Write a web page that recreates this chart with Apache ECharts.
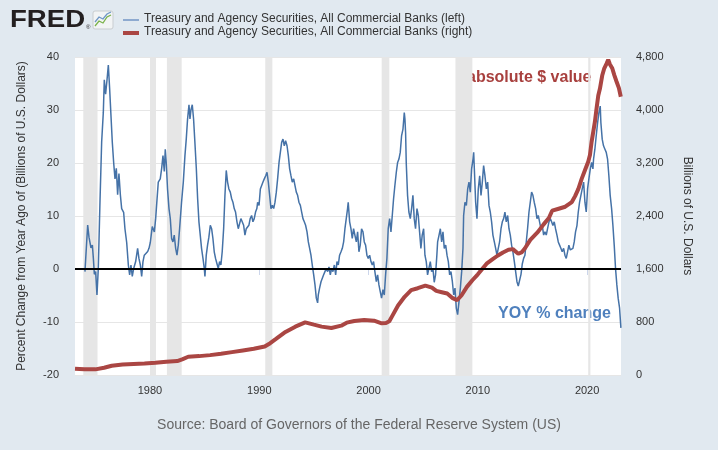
<!DOCTYPE html>
<html>
<head>
<meta charset="utf-8">
<script src="https://cdn.jsdelivr.net/npm/echarts@6/dist/echarts.min.js"></script>
<style>
html,body{margin:0;padding:0;background:#e1e9f0;}
#chart{width:718px;height:450px;}
</style>
</head>
<body>
<div id="chart"></div>
<script>
// ---- Data (decimal years) ----
const yoyYears = [1974.05,1974.30,1974.42,1974.60,1974.73,1974.82,1974.91,1975.03,1975.15,1975.27,1975.43,1975.58,1975.73,1975.82,1975.94,1976.07,1976.19,1976.31,1976.43,1976.55,1976.68,1976.80,1976.92,1977.04,1977.16,1977.29,1977.41,1977.59,1977.71,1977.87,1978.02,1978.14,1978.26,1978.38,1978.51,1978.69,1978.87,1978.99,1979.12,1979.24,1979.36,1979.48,1979.66,1979.79,1979.91,1980.03,1980.21,1980.40,1980.52,1980.64,1980.76,1980.94,1981.07,1981.19,1981.31,1981.40,1981.49,1981.61,1981.74,1981.86,1981.98,1982.10,1982.22,1982.35,1982.47,1982.59,1982.71,1982.89,1983.05,1983.20,1983.32,1983.44,1983.57,1983.66,1983.75,1983.87,1983.99,1984.11,1984.24,1984.36,1984.48,1984.60,1984.72,1984.85,1984.97,1985.03,1985.15,1985.27,1985.39,1985.52,1985.64,1985.76,1985.88,1986.00,1986.13,1986.25,1986.37,1986.49,1986.61,1986.74,1986.86,1986.98,1987.10,1987.22,1987.35,1987.47,1987.59,1987.71,1987.83,1987.96,1988.08,1988.20,1988.32,1988.44,1988.57,1988.69,1988.81,1988.93,1989.05,1989.17,1989.30,1989.42,1989.54,1989.66,1989.78,1989.85,1989.98,1990.10,1990.22,1990.34,1990.46,1990.59,1990.71,1990.83,1990.95,1991.07,1991.20,1991.32,1991.44,1991.56,1991.68,1991.81,1991.93,1992.05,1992.17,1992.29,1992.41,1992.54,1992.66,1992.78,1992.90,1993.02,1993.15,1993.27,1993.39,1993.51,1993.63,1993.76,1993.88,1994.00,1994.12,1994.24,1994.37,1994.49,1994.61,1994.73,1994.85,1994.98,1995.10,1995.22,1995.34,1995.40,1995.52,1995.65,1995.77,1995.89,1996.01,1996.13,1996.26,1996.38,1996.50,1996.62,1996.74,1996.87,1996.99,1997.11,1997.23,1997.35,1997.48,1997.60,1997.72,1997.84,1997.96,1998.08,1998.14,1998.27,1998.39,1998.51,1998.63,1998.75,1998.88,1999.00,1999.12,1999.24,1999.36,1999.49,1999.61,1999.73,1999.85,1999.97,2000.10,2000.22,2000.34,2000.46,2000.58,2000.71,2000.83,2000.95,2001.07,2001.19,2001.32,2001.44,2001.56,2001.68,2001.80,2001.93,2002.05,2002.17,2002.29,2002.41,2002.54,2002.66,2002.78,2002.90,2003.02,2003.15,2003.27,2003.33,2003.39,2003.45,2003.57,2003.69,2003.82,2003.94,2004.06,2004.18,2004.30,2004.43,2004.55,2004.67,2004.79,2004.91,2005.04,2005.16,2005.28,2005.40,2005.52,2005.65,2005.77,2005.89,2006.01,2006.13,2006.25,2006.32,2006.45,2006.57,2006.69,2006.81,2006.93,2007.06,2007.18,2007.30,2007.42,2007.54,2007.67,2007.79,2007.91,2008.03,2008.15,2008.28,2008.40,2008.52,2008.64,2008.70,2008.82,2008.95,2009.07,2009.19,2009.31,2009.43,2009.56,2009.62,2009.68,2009.80,2009.92,2010.04,2010.17,2010.29,2010.41,2010.53,2010.65,2010.78,2010.90,2011.02,2011.14,2011.26,2011.38,2011.51,2011.63,2011.75,2011.87,2011.99,2012.12,2012.24,2012.36,2012.48,2012.60,2012.73,2012.85,2012.97,2013.09,2013.21,2013.34,2013.46,2013.58,2013.70,2013.82,2013.95,2014.07,2014.19,2014.31,2014.43,2014.55,2014.68,2014.80,2014.92,2015.04,2015.16,2015.29,2015.41,2015.53,2015.65,2015.77,2015.90,2016.02,2016.14,2016.26,2016.38,2016.51,2016.63,2016.75,2016.87,2016.99,2017.11,2017.24,2017.36,2017.48,2017.60,2017.72,2017.85,2017.97,2018.09,2018.21,2018.33,2018.46,2018.58,2018.70,2018.82,2018.94,2019.07,2019.19,2019.31,2019.43,2019.55,2019.68,2019.80,2019.92,2020.04,2020.16,2020.29,2020.41,2020.53,2020.59,2020.71,2020.83,2020.96,2021.08,2021.20,2021.26,2021.38,2021.50,2021.63,2021.75,2021.87,2021.99,2022.11,2022.24,2022.36,2022.48,2022.60,2022.72,2022.84,2022.97,2023.09];
const yoyValues = [-0.5,8.3,6,4,4.5,2,-1,-0.5,-4.9,0,13,24,29.5,35.7,33,35.7,38.5,34,29,24,20,17,19,14,18,14,11.4,10.7,7.6,5,0.75,-1.1,0.75,-1.4,0.1,1.4,3.9,2,0.75,-1.4,1.4,2.6,2.6,3.3,3.9,5,8,7,9.5,13,16.4,17,19,21.4,18.4,22.6,20,15,11.4,9.5,5.75,5.1,6.4,3.9,2.6,4.5,7.6,12.6,16.4,21.4,24.5,28.3,31,28.3,30,31,28.3,23.9,19,13.3,8.9,6.4,3.9,2,0.1,-1.4,2.6,4.5,6,8.25,7.6,5.75,3.25,2,1,0.1,1.4,0.75,3.25,7.6,13.9,18.6,16.4,15.1,14.5,13.3,12.6,11.4,10.75,8.9,7.6,7.9,9.5,8.9,8.25,6.4,7.6,7.3,8.25,9.5,10.1,8.9,9.5,10.75,11.4,12.6,12,15.1,15.75,16.4,17,17.6,18.25,16.4,13.9,11.4,12,11.4,12.6,14.5,17,20.1,22,23.9,24.5,23.25,24.2,23.25,21.4,18.9,17.6,16.4,17,15.75,14.5,13.9,12.6,12,10.75,9.5,8.9,8.25,7,5.1,3.9,2.6,0.75,-1.1,-3,-5.5,-6.4,-4.9,-3.6,-2.4,-1.75,-1.1,-0.5,0.1,-0.5,0.4,-1.1,0.1,-0.5,0.75,-1.1,1.4,0.75,2.6,3.25,3.9,5.1,7.6,9.5,11.4,12.6,8.9,7.6,5.75,7.6,6.4,5.1,7,3.25,4.5,7.6,7,5.1,4.5,2.6,2,2.6,1.4,0.75,1.4,-0.5,-2.4,-1.1,-3,-4.25,-5.5,-3.9,-4.9,-1.1,2,7.6,9.5,7,10.1,13.25,15.75,18.25,20.1,20.75,22,25.1,26.4,29.5,28.3,25.7,20,13.9,10.75,9.5,11.4,13.9,9.5,7.6,11.4,10.1,7,3.9,6.4,7.6,2.6,1.4,-1.1,0.1,1.4,-0.5,0.1,-2.5,-1.1,2.6,5.1,6.4,7.6,5.1,7,3.9,4.5,2.6,1.4,-1.1,-0.5,-2.4,-4.9,-3.6,-7.4,-8.6,-6.1,-3.6,-0.5,3.9,10.1,12.6,12,15.1,16.4,14.5,18.9,20.75,22,18.9,12.6,9.5,15.1,17.6,13.9,16.4,19.5,17.6,15.1,16.4,12,10.75,8.9,6.4,5.1,3.9,2.6,3.9,5.1,7.6,8.9,9.5,10.75,8.9,10.1,7.6,6.4,4.5,3.25,1.4,-0.5,-2.4,-3.2,-3,-1,1,2,2.6,5.1,7.6,10.75,12.6,14.5,13.9,12.6,11.4,9.5,10.1,8.9,7.6,8.2,6.4,7,6.4,7.6,8.9,9.5,8.9,8.2,8.9,7.6,6.4,5.1,4.5,3.9,3.25,3.9,2.6,2,3.25,4.5,3.6,3.25,3.9,5.1,7,8.2,10.75,12.6,13.9,15.1,16.4,12.6,10.75,15.1,17,18.9,20.1,18.9,20.75,22.6,25.1,27.6,29.5,30.75,27.6,24.5,23.25,22.6,22,20.75,17.6,13.9,11.4,8.2,4.5,0.1,-3,-5.5,-7.4,-11.1];

const levelYears = [1973.14,1974.0,1975.0,1975.8,1976.5,1977.5,1978.5,1979.5,1980.5,1981.5,1982.5,1983.0,1983.5,1984.5,1985.5,1986.5,1987.5,1988.5,1989.5,1990.5,1991.0,1991.5,1992.4,1993.3,1994.2,1995.0,1995.7,1996.6,1997.5,1998.0,1998.7,1999.6,2000.5,2001.2,2001.6,2001.9,2002.2,2002.7,2003.3,2003.9,2004.5,2005.2,2005.8,2006.2,2006.7,2007.2,2007.7,2008.1,2008.5,2009.0,2009.5,2010.0,2010.4,2010.8,2011.3,2011.8,2012.3,2012.8,2013.2,2013.7,2014.0,2014.3,2014.8,2015.5,2016.0,2016.5,2016.8,2017.4,2018.0,2018.6,2018.9,2019.2,2019.5,2019.8,2020.1,2020.26,2020.41,2020.56,2020.71,2020.86,2021.02,2021.17,2021.38,2021.57,2021.78,2021.93,2022.08,2022.3,2022.48,2022.69,2022.91,2023.08];
const levelValues = [95,88,85,110,140,158,165,172,185,200,210,240,275,285,300,320,345,370,395,430,480,540,650,730,795,760,730,710,745,790,815,830,820,780,785,810,900,1050,1180,1280,1310,1350,1320,1270,1250,1230,1160,1130,1200,1330,1430,1520,1600,1680,1740,1800,1850,1890,1900,1830,1850,1910,2040,2160,2270,2370,2480,2510,2540,2610,2700,2810,2960,3090,3220,3320,3520,3670,3820,4020,4220,4320,4520,4630,4700,4760,4690,4630,4530,4430,4330,4200];

const recessions = [[1973.9,1975.2],[1980.0,1980.55],[1981.55,1982.9],[1990.55,1991.2],[2001.2,2001.9],[2007.95,2009.5],[2020.1,2020.3]];
const xTicks = [1980,1990,2000,2010,2020];
const leftTicks = {min:-20,max:40,interval:10};
const rightTicks = {min:0,max:4800,interval:800};

const seriesNames = ['Treasury and Agency Securities, All Commercial Banks (left)','Treasury and Agency Securities, All Commercial Banks (right)'];

const FONT = '"Liberation Sans", Arial, sans-serif';
const chart = echarts.init(document.getElementById('chart'), null, {renderer:'canvas'});
const zip = (a,b)=>a.map((v,i)=>[v,b[i]]);

chart.setOption({
  backgroundColor:'#e1e9f0',
  animation:false,
  textStyle:{fontFamily:FONT},
  grid:{left:75,right:97,top:57,bottom:75,show:true,backgroundColor:'#ffffff',borderWidth:0},
  xAxis:{
    type:'value',min:1973.14,max:2023.1,
    axisLine:{show:true,lineStyle:{color:'#ccd6eb',width:1}},
    axisTick:{show:true,customValues:xTicks,length:6,lineStyle:{color:'#ccd6eb'}},
    axisLabel:{customValues:xTicks,color:'#333',fontSize:11,margin:10,fontFamily:FONT,formatter:v=>String(Math.round(v))},
    splitLine:{show:false}
  },
  yAxis:[
    {type:'value',min:leftTicks.min,max:leftTicks.max,interval:leftTicks.interval,position:'left',
     name:'Percent Change from Year Ago of (Billions of U.S. Dollars)',nameLocation:'middle',nameRotate:90,nameGap:47,
     nameTextStyle:{color:'#333',fontSize:12,fontFamily:FONT},
     axisLine:{show:false},axisTick:{show:false},
     axisLabel:{color:'#333',fontSize:11,margin:16,fontFamily:FONT},
     splitLine:{show:true,lineStyle:{color:'#e6e6e6',width:1}}},
    {type:'value',min:rightTicks.min,max:rightTicks.max,interval:rightTicks.interval,position:'right',
     name:'Billions of U.S. Dollars',nameLocation:'middle',nameRotate:-90,nameGap:60,
     nameTextStyle:{color:'#333',fontSize:12,fontFamily:FONT},
     axisLine:{show:false},axisTick:{show:false},
     axisLabel:{color:'#333',fontSize:11,margin:15,fontFamily:FONT,formatter:v=>v.toLocaleString('en-US')},
     splitLine:{show:false}}
  ],
  series:[
    {type:'line',name:'recessions',data:[],z:1,silent:true,
     markArea:{silent:true,itemStyle:{color:'#e6e6e6'},data:recessions.map(r=>[{xAxis:r[0]},{xAxis:r[1]}])}},
    {type:'line',name:seriesNames[0],yAxisIndex:0,data:zip(yoyYears,yoyValues),z:2,
     showSymbol:false,symbol:'none',lineStyle:{color:'#4572a7',width:1.5},itemStyle:{color:'#4572a7'}},
    {type:'line',name:'zero',yAxisIndex:0,data:[],z:3,silent:true,
     markLine:{silent:true,symbol:'none',label:{show:false},lineStyle:{color:'#000',width:2,type:'solid'},data:[{yAxis:0}]}},
    {type:'line',name:seriesNames[1],yAxisIndex:1,data:zip(levelYears,levelValues),z:4,
     showSymbol:false,symbol:'none',lineStyle:{color:'#aa4643',width:4},itemStyle:{color:'#aa4643'}}
  ],
  graphic:[
    {type:'text',left:10,top:8,style:{text:'FRED',font:'bold 24px '+FONT,fill:'#231f20'},scaleX:1.15},
    {type:'text',left:86,top:24,style:{text:'®',font:'6px '+FONT,fill:'#231f20'}},
    {type:'rect',shape:{x:93,y:11,width:20,height:18,r:2},style:{fill:'#f2f4f5',stroke:'#c9cdd0',lineWidth:1}},
    {type:'polyline',shape:{points:[[95,26],[99,21],[103,23],[107,17],[111,15]]},style:{stroke:'#7ab24a',lineWidth:1.3,fill:null}},
    {type:'polyline',shape:{points:[[95,22],[99,17],[103,19],[107,14],[111,12]]},style:{stroke:'#6f97c6',lineWidth:1.3,fill:null}},
    {type:'rect',shape:{x:123,y:19,width:16,height:2},style:{fill:'#8eaad0'}},
    {type:'text',left:144,top:13,style:{text:seriesNames[0],font:'12px '+FONT,fill:'#333'}},
    {type:'rect',shape:{x:123,y:31,width:16,height:4},style:{fill:'#aa4643'}},
    {type:'text',left:144,top:26,style:{text:seriesNames[1],font:'12px '+FONT,fill:'#333'}},
    {type:'text',left:467,top:70,style:{text:'absolute $ value',font:'bold 16px '+FONT,fill:'#a8403e'}},
    {type:'text',left:498,top:306,style:{text:'YOY % change',font:'bold 16px '+FONT,fill:'#4f80bd'}},
    {type:'text',left:'center',top:418,style:{text:'Source: Board of Governors of the Federal Reserve System (US)',font:'14px '+FONT,fill:'#666'}}
  ]
});
</script>
</body>
</html>
